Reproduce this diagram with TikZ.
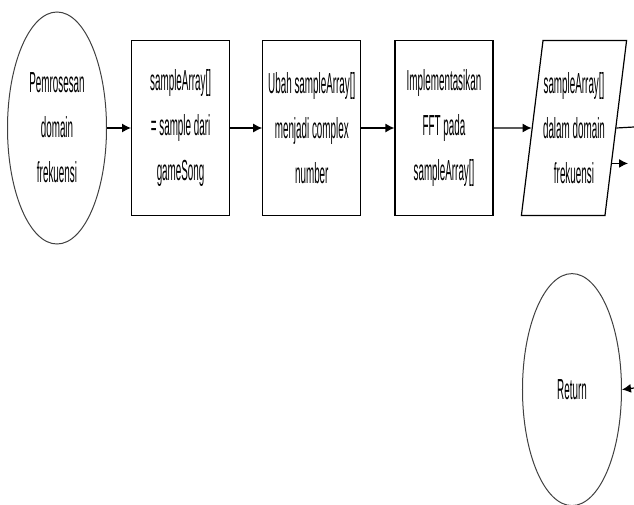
\documentclass[tikz,border=0pt]{standalone}
\usepackage{fontspec}
\newfontfamily\narrowfont[FakeStretch=0.34]{Liberation Sans}
\usetikzlibrary{arrows.meta, positioning, shapes.geometric}
\tikzset{
    procbox/.style={
        rectangle,
        draw=black,
        line width=1.2pt,
        align=center,
        minimum width=98pt,
        minimum height=175pt,
        inner sep=0pt,
        font=\narrowfont\fontsize{29}{45}\selectfont
    },
    termnode/.style={
        ellipse,
        draw=black!75,
        line width=1pt,
        align=center,
        minimum width=99pt,
        minimum height=232pt,
        inner sep=0pt,
        font=\narrowfont\fontsize{29}{45}\selectfont
    },
    iobox/.style={
        trapezium,
        trapezium left angle=79,
        trapezium right angle=101,
        trapezium stretches body,
        draw=black,
        line width=1.2pt,
        align=center,
        minimum width=98pt,
        minimum height=175pt,
        inner sep=0pt,
        font=\narrowfont\fontsize{29}{45}\selectfont
    },
    flowline/.style={
        -{Latex[length=9pt,width=9pt]},
        line width=1.2pt
    }
}
\begin{document}
\begin{tikzpicture}[x=1pt, y=1pt]
    \useasboundingbox (0,0) rectangle (634,-504);
    \node[termnode] (proc) at (57,-128) {Pemrosesan\\domain\\frekuensi};
    \node[procbox, right=24pt of proc] (fill) {sampleArray[]\\= sample dari\\gameSong};
    \node[procbox, right=32pt of fill] (convert) {Ubah sampleArray[]\\menjadi complex\\number};
    \node[procbox, right=33pt of convert] (fft) {Implementasikan\\FFT pada\\sampleArray[]};
    \node[iobox, right=38pt of fft] (output) {sampleArray[]\\dalam domain\\frekuensi};
    \node[termnode, below=57pt of output, xshift=-2pt] (ret) {Return};

    % ends cut off at the right edge
    \coordinate (cutA) at (634,-127);
    \coordinate (cutB) at (628,-160);
    \coordinate (cutC) at (634,-388);

    \draw[flowline] (proc) -- (fill);
    \draw[flowline] (fill) -- (convert);
    \draw[flowline] (convert) -- (fft);
    \draw[flowline] (fft) -- (output);
    \draw[line width=1.2pt] (output.east) -- (cutA);
    \draw[flowline] (output.-43) -- (output.-43 -| cutB);
    \draw[flowline] (cutC) -- (ret.east);
\end{tikzpicture}
\end{document}
